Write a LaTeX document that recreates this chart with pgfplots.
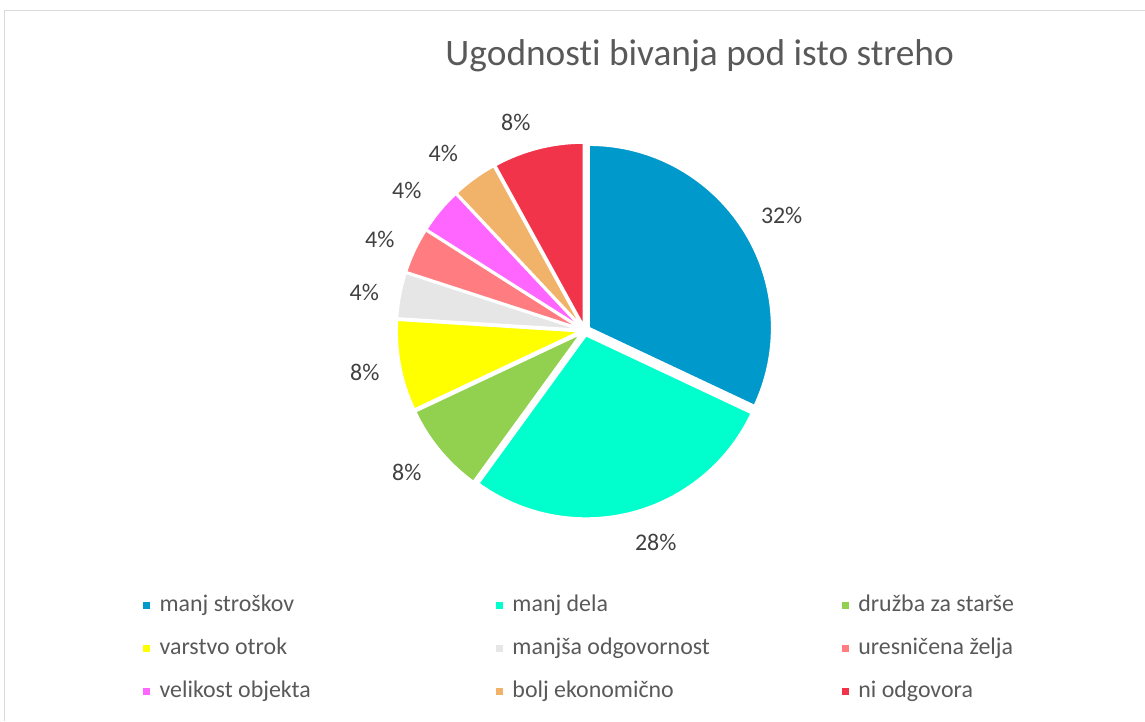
\documentclass[border=0pt]{standalone}
\usepackage{pgfplots}
\pgfplotsset{compat=1.18}
\usepackage{pgfplotstable}
\usepackage{fontspec}
\setmainfont{Carlito}[Ligatures={NoCommon}]
\definecolor{c1}{HTML}{0099CC}
\definecolor{c2}{HTML}{00FFCC}
\definecolor{c3}{HTML}{92D050}
\definecolor{c4}{HTML}{FFFF00}
\definecolor{c5}{HTML}{E6E6E6}
\definecolor{c6}{HTML}{FF7C80}
\definecolor{c7}{HTML}{FF66FF}
\definecolor{c8}{HTML}{F1B36A}
\definecolor{c9}{HTML}{F2344A}
\definecolor{labc}{HTML}{404040}
\definecolor{legc}{HTML}{595959}
\definecolor{titc}{HTML}{595959}
\definecolor{framec}{HTML}{D9D9D9}

% v = share in percent; lx, ly = label position in pixels (from top)
\pgfplotstableread{
v name col lx ly
32 {manj stroškov} c1 782 216
28 {manj dela} c2 656 542.5
8 {družba za starše} c3 407 473
8 {varstvo otrok} c4 365 373
4 {manjša odgovornost} c5 364.5 292.5
4 {uresničena želja} c6 380 240
4 {velikost objekta} c7 407 190.5
4 {bolj ekonomično} c8 443.5 154
8 {ni odgovora} c9 516 122
}\piedata

\begin{document}
\begin{tikzpicture}
\begin{axis}[x=1bp,y=1bp,xmin=0,xmax=1145,ymin=0,ymax=721,hide axis,clip=false]
\path (axis cs:0,0) rectangle (axis cs:1145,721);
\draw[framec, line width=1bp] (axis cs:4.5,0) -- (axis cs:4.5,710) -- (axis cs:1145,710);
\node[anchor=base, text=titc, font=\fontsize{37.5}{42}\selectfont] at (axis cs:700,655) {Ugodnosti bivanja pod isto streho};
\def\cum{0}
\pgfplotsforeachungrouped \i in {0,...,8}{
  \pgfplotstablegetelem{\i}{v}\of\piedata \let\val\pgfplotsretval
  \pgfplotstablegetelem{\i}{col}\of\piedata \let\col\pgfplotsretval
  \pgfplotstablegetelem{\i}{name}\of\piedata \let\nm\pgfplotsretval
  \pgfplotstablegetelem{\i}{lx}\of\piedata \let\lx\pgfplotsretval
  \pgfplotstablegetelem{\i}{ly}\of\piedata \let\lyp\pgfplotsretval
  \pgfmathsetmacro{\ly}{721-\lyp}
  \pgfmathsetmacro{\aS}{90-3.6*\cum}
  \pgfmathsetmacro{\aE}{90-3.6*(\cum+\val)}
  \pgfmathsetmacro{\aM}{(\aS+\aE)/2}
  \pgfmathsetmacro{\cx}{585+5*cos(\aM)}
  \pgfmathsetmacro{\cy}{390.3+5*sin(\aM)}
  \pgfmathtruncatemacro{\colidx}{mod(\i,3)}
  \pgfmathtruncatemacro{\rowidx}{floor(\i/3)}
  \pgfmathsetmacro{\mx}{{143,496,842}[\colidx]}
  \pgfmathsetmacro{\mxr}{\mx+7}
  \pgfmathsetmacro{\tx}{\mx+16.5}
  \pgfmathsetmacro{\by}{721-612-43*\rowidx}
  \pgfmathsetmacro{\myb}{\by+3}
  \pgfmathsetmacro{\myt}{\by+10}
  \edef\temp{%
    \noexpand\fill[\col, draw=white, line width=2bp] (axis cs:\cx,\cy) -- ++(\aS:183bp) arc[start angle=\aS, end angle=\aE, radius=183bp] -- cycle;
    \noexpand\node[text=labc, font=\noexpand\fontsize{24}{28}\noexpand\selectfont] at (axis cs:\lx,\ly) {\val\noexpand\%};
    \noexpand\fill[\col] (axis cs:\mx,\myb) rectangle (axis cs:\mxr,\myt);
    \noexpand\node[anchor=base west, inner sep=0pt, text=legc, font=\noexpand\fontsize{24}{28}\noexpand\selectfont] at (axis cs:\tx,\by) {\nm};
  }%
  \temp
  \pgfmathsetmacro{\cum}{\cum+\val}
}
\end{axis}
\end{tikzpicture}
\end{document}
